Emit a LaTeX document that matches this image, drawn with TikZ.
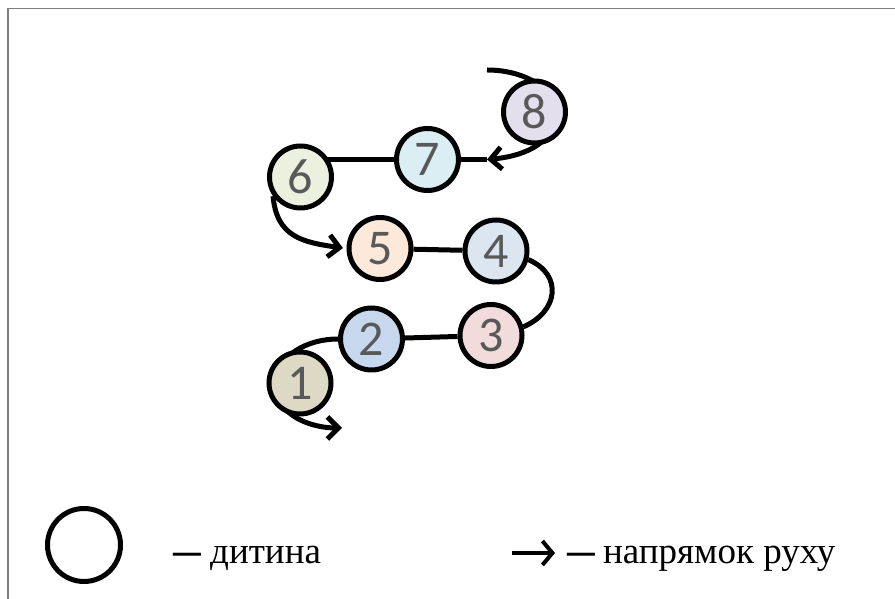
\documentclass[tikz,border=0pt]{standalone}
\usepackage{fontspec}
\setmainfont{Liberation Serif}
\newfontfamily\digitfont{Carlito}
\usetikzlibrary{arrows.meta,backgrounds}
\definecolor{numgray}{HTML}{595959}
\definecolor{framegray}{HTML}{7F7F7F}
\definecolor{c1}{HTML}{DDD9C4}
\definecolor{c2}{HTML}{C6D7EE}
\definecolor{c3}{HTML}{F2DCDB}
\definecolor{c4}{HTML}{DCE6F1}
\definecolor{c5}{HTML}{FDE9D9}
\definecolor{c6}{HTML}{EBF1DE}
\definecolor{c7}{HTML}{DAEEF3}
\definecolor{c8}{HTML}{E4DFEC}
\newcommand{\legdash}{\raisebox{-5pt}{\scalebox{0.75}[1.6]{—}}}
\begin{document}
\begin{tikzpicture}[x=1pt,y=1pt,
  kid/.style={circle,draw=black,line width=5pt,minimum size=62pt,inner sep=0pt,
    font=\digitfont\fontsize{50}{50}\selectfont,text=numgray},
  link/.style={line width=5pt},
  move/.style={line width=5pt,-{Straight Barb[length=11pt,width=22pt]}},
  legendarrow/.style={line width=4pt,-{Straight Barb[length=10pt,width=24pt]}},
  legendtext/.style={inner sep=0pt,anchor=base west,font=\fontsize{37}{37}\selectfont},
  framestyle/.style={draw=framegray,line width=1.5pt}]
\useasboundingbox (0,0) rectangle (895,599);
\draw[framestyle] (8,0) -- (8,590.5) -- (895,590.5);

% children
\node[kid,fill=c1] (n1) at (300,216) {1};
\node[kid,fill=c2] (n2) at (371.5,260) {2};
\node[kid,fill=c3] (n3) at (491,263.5) {3};
\node[kid,fill=c4] (n4) at (496,348) {4};
\node[kid,fill=c5] (n5) at (380,350.5) {5};
\node[kid,fill=c6] (n6) at (300.5,422) {6};
\node[kid,fill=c7] (n7) at (427.5,439.5) {7};
\node[kid,fill=c8] (n8) at (534.5,487) {8};

% free ends and hidden waypoints
\coordinate (s8) at (487,529);
\coordinate (m8) at (554,484);
\coordinate (tip7) at (487,439.5);
\coordinate (tip5) at (343,351);
\coordinate (m1) at (276,214);
\coordinate (tip1) at (342,171);

\begin{scope}[on background layer]
  \draw[move] (s8) to[out=0,in=90] (m8) to[out=-90,in=5] (tip7);
  \draw[link] (n7) -- (tip7);
  \draw[link] (n7) -- (n7 -| n6);
  \draw[move] (n6.215) to[out=-85,in=172,looseness=1.2] (tip5);
  \draw[link] (n5) -- (n4);
  \draw[link] (n4.-15) .. controls +(35,-15) and +(35,15) .. (n3.15);
  \draw[link] (n3) -- (n2);
  \draw[move] (n2.west) to[out=180,in=90] (m1) to[out=-90,in=180] (tip1);
\end{scope}

% legend
\node[circle,draw=black,line width=5pt,minimum size=73pt,inner sep=0pt] (lc) at (84,54) {};
\node[legendtext] (lt1) at (173,35) {\legdash\hspace{0.25em}дитина};
\coordinate (la0) at (512,46);
\coordinate (la1) at (555,46);
\draw[legendarrow] (la0) -- (la1);
\node[legendtext] (lt2) at (567,35) {\legdash\hspace{0.22em}напрямок руху};
\end{tikzpicture}
\end{document}
